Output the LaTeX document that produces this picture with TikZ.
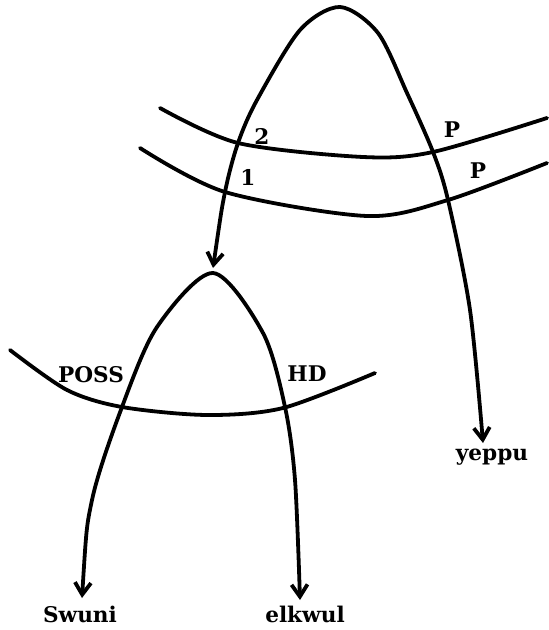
\documentclass[tikz,border=0pt]{standalone}
\usepackage{fontspec}
\usepackage{tikz}
\usetikzlibrary{arrows.meta}
\newfontfamily\glossfont{DejaVu Serif}
\tikzset{
  stroke/.style={line width=1.9pt, line cap=round, line join=round},
  edge/.style={stroke, {Straight Barb[length=6pt,width=8pt]}-{Straight Barb[length=6pt,width=8pt]}},
  band/.style={stroke},
  word/.style={font=\glossfont\fontsize{10.8}{13}\selectfont\bfseries, inner sep=0pt},
  tag/.style={font=\glossfont\fontsize{10.8}{13}\selectfont\bfseries, inner sep=0pt}
}

\begin{document}
\begin{tikzpicture}[x=0.5pt, y=-0.5pt]
  \useasboundingbox (0,0) rectangle (548,630);

  \coordinate (topApex) at (340,7);
  \coordinate (lowApex) at (213,273);
  \coordinate (dtrTip) at (213,268);
  \coordinate (yeppuTip) at (483,443);
  \coordinate (swuniTip) at (82,598);
  \coordinate (elkwulTip) at (300,600);

  \node[word] (yeppu) at (492,457) {yeppu};
  \node[word] (swuni) at (80,614) {Swuni};
  \node[word] (elkwul) at (305,614) {elkwul};

  % upper structure
  \draw[band] plot[smooth] coordinates {(160,108) (238,143) (363,157) (433,152) (547,118)};
  \draw[band] plot[smooth] coordinates {(140,148) (225,192) (367,216) (448,200) (547,163)};
  \draw[edge] plot[smooth] coordinates {(dtrTip) (225,192) (238,143) (257,100) (300,30) (topApex) (378,33) (407,93) (433,152) (448,200) (470,310) (yeppuTip)};

  \node[tag] (two) at (262,136) {2};
  \node[tag] (one) at (248,177) {1};
  \node[tag] (pTop) at (452,130) {P};
  \node[tag] (pLow) at (478,171) {P};

  % lower structure
  \draw[band] plot[smooth] coordinates {(10,350) (67,390) (122,407) (207,415) (283,408) (375,373)};
  \draw[edge] plot[smooth] coordinates {(swuniTip) (92,500) (122,407) (157,327) (lowApex) (263,333) (285,407) (295,480) (elkwulTip)};

  \node[tag] (poss) at (91,375) {POSS};
  \node[tag] (hd) at (307,374) {HD};
\end{tikzpicture}
\end{document}
